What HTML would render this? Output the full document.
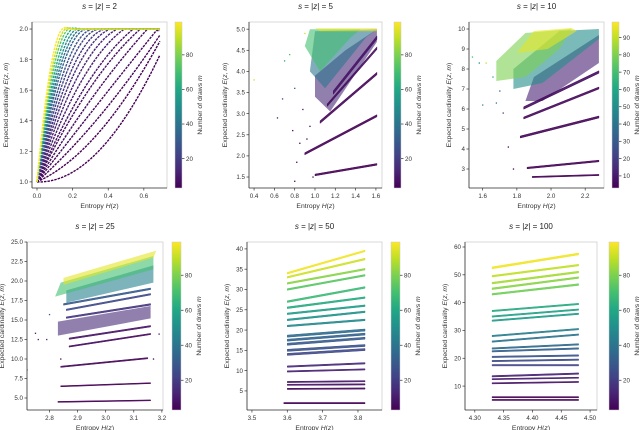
<!DOCTYPE html>
<html><head><meta charset="utf-8"><style>
html,body{margin:0;padding:0;background:#fff;}
svg{display:block;font-family:"Liberation Sans","DejaVu Sans",sans-serif;}
</style></head><body>
<svg id="fig" width="640" height="430" viewBox="0 0 640 430" xmlns="http://www.w3.org/2000/svg"></svg>
<script>
// ---------- Panel 1 (s=2): curves ----------
const p1CurveM = [2,3,4,5,6,7,8,10,12,15,18,22,27,33,40,50,60,75,90,99];
const p1KneeX = [0.69,0.69,0.69,0.67,0.62,0.58,0.54,0.49,0.45,0.41,0.38,0.35,0.32,0.29,0.27,0.25,0.23,0.21,0.19,0.17];
const p1KneeY = [1.83,1.92,1.96,1.99,2,2,2,2,2,2,2,2,2,2,2,2,2,2,2,2];
const p1MidY = [1.2,1.32,1.42,1.5,1.55,1.6,1.62,1.65,1.68,1.7,1.72,1.74,1.75,1.76,1.77,1.78,1.79,1.8,1.8,1.8];
const p1XTicks = [0.0,0.2,0.4,0.6];
const p1YTicks = [1.0,1.2,1.4,1.6,1.8,2.0];
const p1CbTicks = [20,40,60,80];
// ---------- Panel 2 (s=5) ----------
const p2BandM = [2,3,4,6,8];
const p2BandX0 = [1.0,0.9,1.05,1.12,1.18];
const p2BandY0 = [1.55,2.05,2.8,3.2,3.5];
const p2BandX1 = [1.61,1.61,1.61,1.61,1.61];
const p2BandY1 = [1.8,2.95,3.95,4.55,4.8];
const p2BandSpread = [0.04,0.05,0.06,0.06,0.08];
const p2RegionM = [14,40,70,95];
const p2RegionX = [[1.0,1.15,1.61,1.61,1.3,1.0],[0.95,1.1,1.5,1.61,1.0],[0.9,1.05,1.35,1.45,0.95],[1.05,1.61,1.61,1.0]];
const p2RegionY = [[3.4,3.05,4.7,5.0,4.5,3.9],[4.0,3.6,4.8,5.0,4.95],[4.6,4.0,4.8,5.0,5.0],[4.95,4.95,5.02,5.02]];
const p2PtX = [0.4,0.63,0.68,0.7,0.75,0.78,0.8,0.82,0.85,0.88,0.9,0.92,0.95,0.8,0.98];
const p2PtY = [3.8,2.9,3.35,4.25,4.4,2.6,1.4,1.85,2.3,3.1,4.9,2.4,2.7,3.6,1.5];
const p2PtM = [90,10,20,60,70,5,2,3,3,8,90,3,4,30,2];
const p2XTicks = [0.4,0.6,0.8,1.0,1.2,1.4,1.6];
const p2YTicks = [1.5,2.0,2.5,3.0,3.5,4.0,4.5,5.0];
const p2CbTicks = [20,40,60,80];
// ---------- Panel 3 (s=10) ----------
const p3BandM = [2,3,4,5,6];
const p3BandX0 = [1.89,1.86,1.82,1.84,1.84];
const p3BandY0 = [2.6,3.05,4.6,5.55,6.05];
const p3BandX1 = [2.28,2.28,2.28,2.28,2.28];
const p3BandY1 = [2.7,3.4,5.6,7.05,7.85];
const p3BandSpread = [0.06,0.08,0.1,0.1,0.12];
const p3RegionM = [12,50,80,95];
const p3RegionX = [[1.85,1.95,2.28,2.28,1.9],[1.78,1.95,2.28,2.28,2.05,1.78],[1.68,1.85,2.05,2.12,1.85,1.68],[1.8,1.98,2.15,2.12,1.9]];
const p3RegionY = [[6.4,6.4,8.3,9.7,7.6],[7.0,7.3,9.5,10.0,9.9,8.0],[7.4,7.6,9.0,10.0,9.8,8.4],[8.8,9.0,9.9,10.05,9.9]];
const p3PtX = [1.54,1.58,1.62,1.66,1.7,1.68,1.72,1.6,1.75,1.78];
const p3PtY = [8.6,8.3,8.3,7.6,6.9,6.3,5.8,6.2,4.1,3.0];
const p3PtM = [70,50,90,60,30,40,20,50,5,3];
const p3XTicks = [1.6,1.8,2.0,2.2];
const p3YTicks = [3,4,5,6,7,8,9,10];
const p3CbTicks = [10,20,30,40,50,60,70,80,90];
// ---------- Panel 4 (s=25) ----------
const p4BandM = [2,3,4,6,8,18,24,30];
const p4BandX0 = [2.83,2.84,2.84,2.87,2.87,2.86,2.86,2.85];
const p4BandY0 = [4.5,6.5,9.0,11.6,12.6,15.3,16.3,17.0];
const p4BandX1 = [3.16,3.16,3.15,3.16,3.16,3.16,3.16,3.16];
const p4BandY1 = [4.7,6.9,10.1,13.2,14.2,17.0,18.3,19.0];
const p4BandSpread = [0.12,0.12,0.15,0.15,0.18,0.2,0.2,0.2];
const p4RegionM = [14,45,70,95];
const p4RegionX = [[2.83,3.16,3.16,2.83],[2.86,3.17,3.17,2.86],[2.82,3.17,3.17,2.84],[2.85,3.17,3.18,2.85]];
const p4RegionY = [[13.0,15.2,16.8,14.8],[17.2,19.8,22.0,18.8],[18.0,21.5,23.2,19.8],[19.5,23.0,23.9,20.4]];
const p4PtX = [2.72,2.76,2.75,2.79,2.8,2.84,3.17,3.19];
const p4PtY = [8.6,12.5,13.3,12.5,15.7,10.0,10.0,13.2];
const p4PtM = [2,10,10,12,30,3,3,8];
const p4XTicks = [2.8,2.9,3.0,3.1,3.2];
const p4YTicks = [5.0,7.5,10.0,12.5,15.0,17.5,20.0,22.5,25.0];
const p4CbTicks = [20,40,60,80];
// ---------- Panel 5 (s=50) ----------
const p5BandM = [2,5,7,9,12,14,24,27,30,33,36,48,52,56,62,68,74,82,92,97];
const p5BandX0 = [3.59,3.6,3.6,3.6,3.6,3.6,3.6,3.6,3.6,3.6,3.6,3.6,3.6,3.6,3.6,3.6,3.6,3.6,3.6,3.6];
const p5BandY0 = [2.0,5.5,6.5,7.2,9.8,11.0,14.0,15.0,16.5,17.5,18.5,21.0,22.5,24.0,25.5,27.0,30.0,31.5,33.0,34.0];
const p5BandX1 = [3.82,3.82,3.82,3.82,3.82,3.82,3.82,3.82,3.82,3.82,3.82,3.82,3.82,3.82,3.82,3.82,3.82,3.82,3.82,3.82];
const p5BandY1 = [2.0,5.6,6.6,7.4,10.3,11.8,15.2,16.2,18.0,19.0,20.0,22.5,24.5,26.0,28.0,30.5,33.5,35.0,37.5,39.5];
const p5BandSpread = [0.3,0.3,0.3,0.3,0.3,0.35,0.5,0.5,0.5,0.5,0.5,0.4,0.4,0.4,0.4,0.4,0.4,0.4,0.4,0.4];
const p5XTicks = [3.5,3.6,3.7,3.8];
const p5YTicks = [5,10,15,20,25,30,35,40];
const p5CbTicks = [20,40,60,80];
// ---------- Panel 6 (s=100) ----------
const p6BandM = [2,3,8,10,12,22,25,28,32,36,40,44,55,58,62,78,82,86,90,97];
const p6BandX0 = [4.33,4.33,4.33,4.33,4.33,4.33,4.33,4.33,4.33,4.33,4.33,4.33,4.33,4.33,4.33,4.33,4.33,4.33,4.33,4.33];
const p6BandY0 = [5.0,6.0,11.0,12.5,13.5,17.5,19.0,20.5,22.5,23.5,26.0,28.0,33.5,35.0,37.0,43.0,45.0,47.0,49.5,52.5];
const p6BandX1 = [4.48,4.48,4.48,4.48,4.48,4.48,4.48,4.48,4.48,4.48,4.48,4.48,4.48,4.48,4.48,4.48,4.48,4.48,4.48,4.48];
const p6BandY1 = [5.0,6.0,11.5,13.0,14.5,17.5,19.5,21.0,23.5,25.0,28.5,30.5,36.0,37.5,39.5,46.5,49.0,51.0,53.5,57.5];
const p6BandSpread = [0.4,0.4,0.4,0.4,0.5,0.5,0.5,0.5,0.5,0.5,0.5,0.5,0.5,0.5,0.5,0.6,0.6,0.6,0.6,0.7];
const p6XTicks = [4.30,4.35,4.40,4.45,4.50];
const p6YTicks = [10,20,30,40,50,60];
const p6CbTicks = [20,40,60,80];

const NS = "http://www.w3.org/2000/svg";
const svg = document.getElementById('fig');
const VIR = ["#440154","#482475","#414487","#355f8d","#2a788e","#21918c","#22a884","#44bf70","#7ad151","#bddf26","#fde725"];
function hex(c){return [1,3,5].map(i=>parseInt(c.substr(i,2),16));}
function viridis(t){t=Math.max(0,Math.min(1,t));const f=t*10;const i=Math.min(9,Math.floor(f));const r=f-i;const a=hex(VIR[i]),b=hex(VIR[i+1]);return 'rgb('+a.map((v,k)=>Math.round(v+(b[k]-v)*r)).join(',')+')';}
const CMIN=3, CMAX=99;
function mcol(m){return viridis((m-CMIN)/(CMAX-CMIN));}
function el(tag,attrs,parent){const e=document.createElementNS(NS,tag);for(const k in attrs)e.setAttribute(k,attrs[k]);(parent||svg).appendChild(e);return e;}
let gid=0;
function fmt(v,d){return v.toFixed(d);}

function panel(cfg){
  const g=el('g',{});
  
  
  const sx=v=>cfg.x0+(v-cfg.xmin)/(cfg.xmax-cfg.xmin)*(cfg.x1-cfg.x0);
  const sy=v=>cfg.y1-(v-cfg.ymin)/(cfg.ymax-cfg.ymin)*(cfg.y1-cfg.y0);
  const clipId='clip'+(gid++);
  const cp=el('clipPath',{id:clipId},g);el('rect',{x:cfg.x0,y:cfg.y0,width:cfg.x1-cfg.x0,height:cfg.y1-cfg.y0},cp);
  const plot=el('g',{'clip-path':'url(#'+clipId+')'},g);
  
  
  if(cfg.regM){cfg.regM.forEach((m,i)=>{
    const pts=cfg.regX[i].map((x,j)=>sx(x).toFixed(1)+','+sy(cfg.regY[i][j]).toFixed(1)).join(' ');
    const p=el('polygon',{points:pts,fill:mcol(m),'fill-opacity':0.6},plot);
    
    
  });}
  if(cfg.bM){cfg.bM.forEach((m,i)=>{
    const s=cfg.bS[i]/2;
    const pts=[[cfg.bX0[i],cfg.bY0[i]-s],[cfg.bX1[i],cfg.bY1[i]-s],[cfg.bX1[i],cfg.bY1[i]+s],[cfg.bX0[i],cfg.bY0[i]+s]].map(p=>sx(p[0]).toFixed(1)+','+sy(p[1]).toFixed(1)).join(' ');
    const p=el('polygon',{points:pts,fill:mcol(m),stroke:mcol(m),'stroke-width':0.5,'fill-opacity':0.9},plot);
    
    
  });}
  if(cfg.cM){cfg.cM.forEach((m,i)=>{
    const kx=cfg.cKx[i],ky=cfg.cKy[i],mx=kx/2,my=cfg.cMy[i];
    const cx=2*mx-(0+kx)/2, cy=2*my-(1+ky)/2;
    let d='M'+sx(0)+','+sy(1)+' Q'+sx(cx)+','+sy(cy)+' '+sx(kx)+','+sy(ky);
    if(kx<0.69) d+=' L'+sx(0.69)+','+sy(ky);
    const p=el('path',{d:d,fill:'none',stroke:mcol(m),'stroke-width':1.4,'stroke-dasharray':'2.5 1'},plot);
    
    
  });}
  if(cfg.pX){cfg.pX.forEach((x,i)=>{
    const c=el('rect',{x:sx(x)-0.6,y:sy(cfg.pY[i])-0.6,width:1.3,height:1.3,fill:mcol(cfg.pM[i])},plot);
    
    
  });}
  el('rect',{x:cfg.x0,y:cfg.y0,width:cfg.x1-cfg.x0,height:cfg.y1-cfg.y0,fill:'none',stroke:'#cfcfcf','stroke-width':0.8},g);
  el('line',{x1:cfg.x0,y1:cfg.y0,x2:cfg.x0,y2:cfg.y1,stroke:'#333','stroke-width':0.8},g);
  el('line',{x1:cfg.x0,y1:cfg.y1,x2:cfg.x1,y2:cfg.y1,stroke:'#333','stroke-width':0.8},g);
  cfg.xt.forEach(v=>{const X=sx(v);el('line',{x1:X,y1:cfg.y1,x2:X,y2:cfg.y1+2.5,stroke:'#333','stroke-width':0.7},g);
    const t=el('text',{x:X,y:cfg.y1+10,'font-size':6.2,'text-anchor':'middle',fill:'#333'},g);t.textContent=fmt(v,cfg.xd);
    });
  cfg.yt.forEach(v=>{const Y=sy(v);el('line',{x1:cfg.x0-2.5,y1:Y,x2:cfg.x0,y2:Y,stroke:'#333','stroke-width':0.7},g);
    const t=el('text',{x:cfg.x0-4,y:Y+2.2,'font-size':6.2,'text-anchor':'end',fill:'#333'},g);t.textContent=fmt(v,cfg.yd);
    });
  const xl=el('text',{x:(cfg.x0+cfg.x1)/2,y:cfg.y1+20,'font-size':6.8,'text-anchor':'middle',fill:'#333'},g);
  xl.innerHTML='Entropy <tspan font-style="italic">H</tspan>(<tspan font-style="italic">z</tspan>)';
  
  const yx=cfg.x0-cfg.ylOff, ymid=(cfg.y0+cfg.y1)/2;
  const yl=el('text',{x:yx,y:ymid,'font-size':6.8,'text-anchor':'middle',fill:'#333',transform:'rotate(-90 '+yx+' '+ymid+')'},g);
  yl.innerHTML='Expected cardinality <tspan font-style="italic">E</tspan>(<tspan font-style="italic">z, m</tspan>)';
  
  const tt=el('text',{x:(cfg.x0+cfg.x1)/2,y:cfg.y0-13,'font-size':8,'text-anchor':'middle',fill:'#222'},g);
  tt.innerHTML='<tspan font-style="italic">s</tspan> = |<tspan font-style="italic">z</tspan>| =  '+cfg.s;
  
  const gradId='grad'+(gid++);
  const lg=el('linearGradient',{id:gradId,x1:0,y1:1,x2:0,y2:0},g);
  VIR.forEach((c,i)=>el('stop',{offset:(i*10)+'%','stop-color':c},lg));
  const cb=el('rect',{x:cfg.cbx,y:cfg.y0,width:cfg.cbw,height:cfg.y1-cfg.y0,fill:'url(#'+gradId+')',stroke:'#ccc','stroke-width':0.5},g);
  
  const cy2=v=>cfg.y1-(v-CMIN)/(CMAX-CMIN)*(cfg.y1-cfg.y0);
  cfg.cbt.forEach(v=>{const Y=cy2(v);el('line',{x1:cfg.cbx+cfg.cbw,y1:Y,x2:cfg.cbx+cfg.cbw+2.5,y2:Y,stroke:'#333','stroke-width':0.7},g);
    const t=el('text',{x:cfg.cbx+cfg.cbw+4,y:Y+2.2,'font-size':6.2,fill:'#333'},g);t.textContent=v;
    });
  const lx=cfg.cbx+cfg.cbw+20;
  const cl=el('text',{x:lx,y:ymid,'font-size':6.8,'text-anchor':'middle',fill:'#333',transform:'rotate(-90 '+lx+' '+ymid+')'},g);
  cl.innerHTML='Number of draws <tspan font-style="italic">m</tspan>';
  
}

panel({name:'s2',s:2,x0:32,x1:167,y0:22,y1:188,xmin:-0.028,xmax:0.73,ymin:0.96,ymax:2.046,xt:p1XTicks,yt:p1YTicks,xd:1,yd:1,ylOff:24,cbx:175,cbw:7,cbt:p1CbTicks,
  cM:p1CurveM,cKx:p1KneeX,cKy:p1KneeY,cMy:p1MidY});
panel({name:'s5',s:5,x0:249,x1:382,y0:22,y1:188,xmin:0.35,xmax:1.66,ymin:1.24,ymax:5.17,xt:p2XTicks,yt:p2YTicks,xd:1,yd:1,ylOff:22,cbx:394,cbw:7,cbt:p2CbTicks,
  bM:p2BandM,bX0:p2BandX0,bY0:p2BandY0,bX1:p2BandX1,bY1:p2BandY1,bS:p2BandSpread,regM:p2RegionM,regX:p2RegionX,regY:p2RegionY,pX:p2PtX,pY:p2PtY,pM:p2PtM});
panel({name:'s10',s:10,x0:469,x1:604,y0:22,y1:188,xmin:1.52,xmax:2.31,ymin:2.05,ymax:10.35,xt:p3XTicks,yt:p3YTicks,xd:1,yd:0,ylOff:18,cbx:612,cbw:7,cbt:p3CbTicks,
  bM:p3BandM,bX0:p3BandX0,bY0:p3BandY0,bX1:p3BandX1,bY1:p3BandY1,bS:p3BandSpread,regM:p3RegionM,regX:p3RegionX,regY:p3RegionY,pX:p3PtX,pY:p3PtY,pM:p3PtM});
panel({name:'s25',s:25,x0:27,x1:163,y0:242,y1:410,xmin:2.72,xmax:3.204,ymin:3.46,ymax:25,xt:p4XTicks,yt:p4YTicks,xd:1,yd:1,ylOff:23,cbx:172,cbw:9,cbt:p4CbTicks,
  bM:p4BandM,bX0:p4BandX0,bY0:p4BandY0,bX1:p4BandX1,bY1:p4BandY1,bS:p4BandSpread,regM:p4RegionM,regX:p4RegionX,regY:p4RegionY,pX:p4PtX,pY:p4PtY,pM:p4PtM});
panel({name:'s50',s:50,x0:247,x1:382,y0:242,y1:410,xmin:3.486,xmax:3.868,ymin:0.3,ymax:41.7,xt:p5XTicks,yt:p5YTicks,xd:1,yd:0,ylOff:18,cbx:391,cbw:9,cbt:p5CbTicks,
  bM:p5BandM,bX0:p5BandX0,bY0:p5BandY0,bX1:p5BandX1,bY1:p5BandY1,bS:p5BandSpread});
panel({name:'s100',s:100,x0:465,x1:597,y0:242,y1:410,xmin:4.283,xmax:4.512,ymin:1.4,ymax:61.8,xt:p6XTicks,yt:p6YTicks,xd:2,yd:0,ylOff:18,cbx:609,cbw:10,cbt:p6CbTicks,
  bM:p6BandM,bX0:p6BandX0,bY0:p6BandY0,bX1:p6BandX1,bY1:p6BandY1,bS:p6BandSpread});
</script>
</body></html>
